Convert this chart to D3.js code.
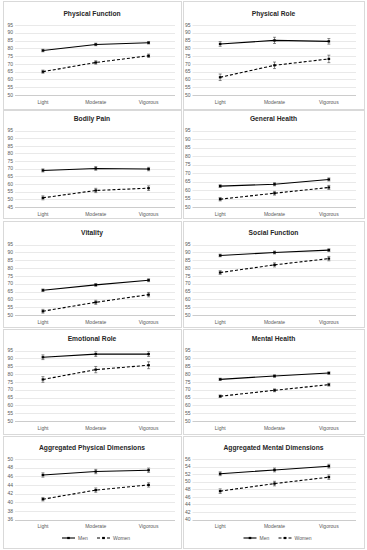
<!DOCTYPE html>
<html><head><meta charset="utf-8">
<script src="https://cdn.jsdelivr.net/npm/d3@7"></script>
<style>html,body{margin:0;padding:0;background:#fff;}svg{display:block;}</style>
</head><body>
<svg id="chart" width="367" height="550"></svg>
<script>
const categories = ["Light", "Moderate", "Vigorous"];
const titles = ["Physical Function", "Physical Role", "Bodily Pain", "General Health", "Vitality",
  "Social Function", "Emotional Role", "Mental Health", "Aggregated Physical Dimensions", "Aggregated Mental Dimensions"];
const menValues = [
  [78.6, 82.5, 83.6], [82.8, 85.1, 84.5], [68.9, 70.2, 69.8], [62.3, 63.4, 66.2], [65.8, 69.2, 72.2],
  [88.0, 89.9, 91.4], [90.7, 92.7, 92.7], [76.6, 78.7, 80.6], [46.3, 47.1, 47.4], [52.1, 53.1, 54.1]];
const womenValues = [
  [65.0, 70.9, 75.2], [61.4, 69.1, 73.2], [51.0, 55.8, 57.3], [54.6, 58.1, 61.5], [52.4, 58.1, 63.0],
  [77.1, 82.0, 86.0], [76.5, 82.8, 85.6], [65.8, 69.6, 73.2], [40.7, 42.8, 44.0], [47.5, 49.5, 51.2]];
const menErrors = [
  [0.8, 0.8, 0.8], [1.5, 2.0, 1.8], [1.0, 1.2, 1.1], [0.8, 0.9, 0.9], [0.8, 0.9, 0.9],
  [0.8, 0.9, 0.9], [1.5, 1.5, 1.5], [0.7, 0.8, 0.8], [0.5, 0.5, 0.5], [0.5, 0.5, 0.5]];
const womenErrors = [
  [1.0, 1.1, 1.1], [2.1, 2.1, 2.4], [1.3, 1.4, 1.5], [1.0, 1.1, 1.2], [1.2, 1.3, 1.4],
  [1.2, 1.3, 1.4], [1.8, 2.0, 2.2], [0.8, 0.9, 0.9], [0.4, 0.5, 0.5], [0.6, 0.6, 0.6]];
const yTickLabels = [
  [50,55,60,65,70,75,80,85,90,95], [50,55,60,65,70,75,80,85,90,95],
  [45,50,55,60,65,70,75,80,85,90,95], [50,55,60,65,70,75,80,85,90,95],
  [50,55,60,65,70,75,80,85,90,95], [50,55,60,65,70,75,80,85,90,95],
  [50,55,60,65,70,75,80,85,90,95], [50,55,60,65,70,75,80,85,90,95],
  [36,38,40,42,44,46,48,50], [40,42,44,46,48,50,52,54,56]];
const seriesNames = ["Men", "Women"];

// layout (pixels)
const rows = [
  {top: 1,   bottom: 109, title: 14,  gTop: 25,    gBot: 95,    xlab: 102},
  {top: 110, bottom: 218, title: 119, gTop: 130.5, gBot: 207,   xlab: 214},
  {top: 221, bottom: 327, title: 233, gTop: 244.5, gBot: 315,   xlab: 322},
  {top: 329, bottom: 434, title: 339, gTop: 350.5, gBot: 421,   xlab: 428},
  {top: 436, bottom: 548, title: 448, gTop: 459,   gBot: 519.5, xlab: 526.5, legend: 538}
];
const cols = [
  {x0: 3,   x1: 181, labX: 13,    gx0: 15,    gx1: 175, band: [16.5, 175]},
  {x0: 183, x1: 364, labX: 190.5, gx0: 192.5, gx1: 356, band: [193, 356]}
];

const svg = d3.select("#chart");
const font = "'Liberation Sans', Arial, sans-serif";

titles.forEach((t, i) => {
  const r = rows[Math.floor(i / 2)], c = cols[i % 2];
  const g = svg.append("g");
  g.append("rect").attr("x", c.x0 + 0.5).attr("y", r.top + 0.5)
    .attr("width", c.x1 - c.x0).attr("height", r.bottom - r.top)
    .attr("fill", "#fff").attr("stroke", "#d9d9d9").attr("stroke-width", 1);
  g.append("text").attr("x", (c.x0 + c.x1) / 2).attr("y", r.title + 2.4)
    .attr("text-anchor", "middle").attr("font-family", font).attr("font-weight", "bold")
    .attr("font-size", 6.7).attr("fill", "#262626").text(t);

  const ticks = yTickLabels[i];
  const y = d3.scaleLinear().domain([d3.min(ticks), d3.max(ticks)]).range([r.gBot, r.gTop]);
  const x = d3.scaleBand().domain(categories).range(c.band);
  const cx = d => x(d) + x.bandwidth() / 2;

  // gridlines
  g.selectAll(".grid").data(ticks).enter().append("line")
    .attr("x1", c.gx0).attr("x2", c.gx1)
    .attr("y1", d => Math.round(y(d)) + 0.5).attr("y2", d => Math.round(y(d)) + 0.5)
    .attr("stroke", (d, k) => k === 0 ? "#bfbfbf" : "#e3e3e3").attr("stroke-width", 0.8);
  // y labels
  g.selectAll(".yl").data(ticks).enter().append("text")
    .attr("x", c.labX).attr("y", d => y(d) + 1.7).attr("text-anchor", "end")
    .attr("font-family", font).attr("font-size", 5).attr("fill", "#595959").text(d => d);
  // x labels
  g.selectAll(".xl").data(categories).enter().append("text")
    .attr("x", d => cx(d)).attr("y", r.xlab + 1.7).attr("text-anchor", "middle")
    .attr("font-family", font).attr("font-size", 5).attr("fill", "#595959").text(d => d);

  const series = [
    {vals: menValues[i], errs: menErrors[i], dash: null},
    {vals: womenValues[i], errs: womenErrors[i], dash: "3,2"}
  ];
  series.forEach(s => {
    const pts = categories.map((cat, k) => ({cat, v: s.vals[k], e: s.errs[k]}));
    // error bars
    pts.forEach(p => {
      const eg = g.append("g").attr("stroke", "#404040").attr("stroke-width", 0.6);
      eg.append("line").attr("x1", cx(p.cat)).attr("x2", cx(p.cat)).attr("y1", y(p.v - p.e)).attr("y2", y(p.v + p.e));
      [p.v - p.e, p.v + p.e].forEach(vv => eg.append("line")
        .attr("x1", cx(p.cat) - 1.5).attr("x2", cx(p.cat) + 1.5).attr("y1", y(vv)).attr("y2", y(vv)));
    });
    g.append("path").datum(pts)
      .attr("d", d3.line().x(p => cx(p.cat)).y(p => y(p.v)))
      .attr("fill", "none").attr("stroke", "#000").attr("stroke-width", 1.1)
      .attr("stroke-dasharray", s.dash);
    g.selectAll(null).data(pts).enter().append("rect")
      .attr("x", p => cx(p.cat) - 1.3).attr("y", p => y(p.v) - 1.1)
      .attr("width", 2.6).attr("height", 2.2).attr("fill", "#000");
  });

  if (r.legend !== undefined) {
    const mx = (c.x0 + c.x1) / 2;
    const ly = r.legend;
    const items = [
      {name: seriesNames[0], dash: null, lx0: mx - 30, lx1: mx - 17, tx: mx - 14},
      {name: seriesNames[1], dash: "3,2", lx0: mx + 5, lx1: mx + 18, tx: mx + 21}
    ];
    items.forEach(it => {
      g.append("line").attr("x1", it.lx0).attr("x2", it.lx1).attr("y1", ly).attr("y2", ly)
        .attr("stroke", "#000").attr("stroke-width", 1.1).attr("stroke-dasharray", it.dash);
      g.append("rect").attr("x", (it.lx0 + it.lx1) / 2 - 1.3).attr("y", ly - 1.1)
        .attr("width", 2.6).attr("height", 2.2).attr("fill", "#000");
      g.append("text").attr("x", it.tx).attr("y", ly + 1.7).attr("font-family", font)
        .attr("font-size", 5).attr("fill", "#595959").text(it.name);
    });
  }
});
</script>
</body></html>
